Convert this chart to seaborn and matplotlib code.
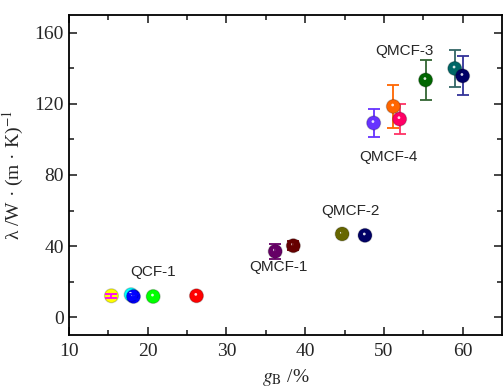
import matplotlib
matplotlib.use("Agg")
import matplotlib.pyplot as plt
import matplotlib.transforms as mtransforms
import seaborn as sns
import pandas as pd
import numpy as np

gb = [15.4, 17.9, 18.2, 20.7, 26.2, 36.2, 38.5, 44.7, 47.6, 48.7, 51.2, 52.0, 55.3, 59.0, 60.0]
lam = [12.0, 12.6, 11.6, 11.6, 12.0, 37.0, 40.2, 46.8, 46.0, 109.3, 118.6, 111.5, 133.5, 140.0, 135.8]
err = [1.2, 1.0, 1.2, 0.8, 0.8, 4.2, 2.5, 1.5, 1.2, 7.8, 12.0, 8.7, 11.1, 10.2, 11.0]
face_colors = ["#ffff00", "#00ffff", "#0000ff", "#00ff00", "#ff0000", "#660066", "#660000",
               "#666600", "#000066", "#6633ff", "#ff6600", "#ff0066", "#006600", "#006666", "#000066"]
err_colors = ["#ff00ff", "#00ffff", "#0000ff", "#00ff00", "#ff0000", "#660066", "#660000",
              "#666600", "#000066", "#6633ff", "#ff6600", "#ff3366", "#336633", "#336666", "#333399"]
err_on_top = [True, False, True, False, False, True, True, True, False,
              False, False, False, False, False, False]
labels = ["QCF-1", "QMCF-1", "QMCF-2", "QMCF-3", "QMCF-4"]
label_x = [20.7, 36.6, 45.7, 52.6, 50.6]
label_y = [25.3, 28.3, 60.0, 150.0, 90.0]

sns.set_theme(style="ticks")
plt.rcParams['font.family'] = ['Liberation Serif', 'DejaVu Serif']
plt.rcParams['mathtext.fontset'] = 'stix'

fig = plt.figure(figsize=(5.03, 3.88), dpi=100)
ax = fig.add_axes([0.137, 0.137, 0.861, 0.824])

df = pd.DataFrame({"gb": gb, "lam": lam, "id": [str(i) for i in range(len(gb))]})

for x, y, e, c, top in zip(gb, lam, err, err_colors, err_on_top):
    ax.errorbar(x, y, yerr=e, fmt="none", ecolor=c, elinewidth=1.3, capsize=4.2, capthick=1.3,
                zorder=6 if top else 2)

sns.scatterplot(data=df, x="gb", y="lam", hue="id", palette=face_colors, s=100,
                edgecolor="none", legend=False, ax=ax, zorder=3)
# darker rim effect
ax.scatter(gb, lam, s=100, facecolors="none", edgecolors=[(0, 0, 0, 0.2)] * len(gb), linewidths=0.9, zorder=4)
# highlight
off = mtransforms.ScaledTranslation(-0.5 / 72, 1.0 / 72, fig.dpi_scale_trans)
ax.scatter(gb, lam, s=4, color="white", alpha=0.85, edgecolors="none", zorder=5,
           transform=ax.transData + off)

for t, x, y in zip(labels, label_x, label_y):
    ax.text(x, y, t, ha="center", va="center", fontsize=11, family=["Liberation Sans", "DejaVu Sans"])

ax.set_xlim(10, 65)
ax.set_ylim(-10, 170)
ax.set_xticks([10, 20, 30, 40, 50, 60])
ax.set_yticks([0, 40, 80, 120, 160])
ax.set_xticks(np.arange(15, 65, 10), minor=True)
ax.set_yticks(np.arange(20, 170, 40), minor=True)
ax.tick_params(which="both", direction="in", top=True, right=True, width=1.2, labelsize=14)
ax.tick_params(which="major", length=6)
ax.tick_params(which="minor", length=3.5)
ax.tick_params(axis="x", pad=6)
for sp in ax.spines.values():
    sp.set_linewidth(1.3)
    sp.set_color("black")
ax.set_xlabel(r"$g_{\mathrm{B}}$ /%", fontsize=14, labelpad=5)
ax.set_ylabel(r"λ /W · (m · K)$^{-1}$", fontsize=14, labelpad=6)

fig.savefig("out.png", dpi=100)
